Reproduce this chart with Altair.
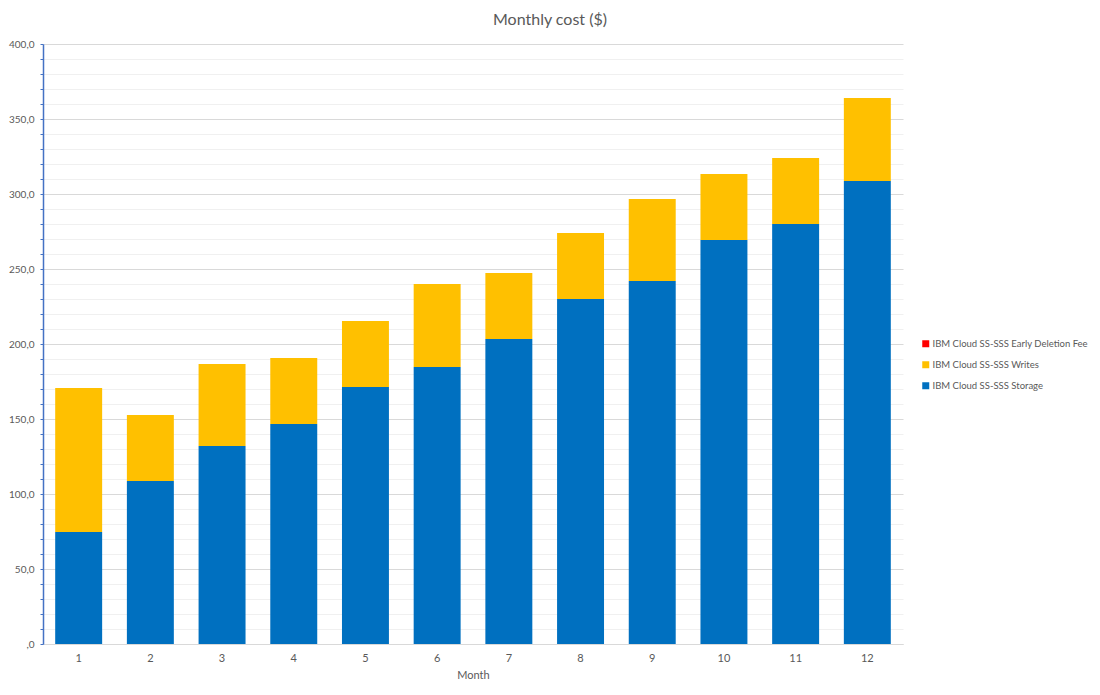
import altair as alt
import pandas as pd

months = [1, 2, 3, 4, 5, 6, 7, 8, 9, 10, 11, 12]
storage = [74.7, 108.7, 132.0, 146.7, 171.3, 184.7, 203.3, 230.0, 242.0, 269.3, 280.0, 308.7]
writes = [96.0, 44.0, 54.7, 44.0, 44.0, 55.3, 44.0, 44.0, 54.7, 44.0, 44.0, 55.3]
early_fee = [0, 0, 0, 0, 0, 0, 0, 0, 0, 0, 0, 0]

series_names = [
    "IBM Cloud SS-SSS Early Deletion Fee",
    "IBM Cloud SS-SSS Writes",
    "IBM Cloud SS-SSS Storage",
]
series_colors = ["#FF0000", "#FFC000", "#0070C0"]

rows = []
for i, m in enumerate(months):
    rows.append({"Month": m, "Series": series_names[2], "Cost": storage[i], "ord": 0})
    rows.append({"Month": m, "Series": series_names[1], "Cost": writes[i], "ord": 1})
    rows.append({"Month": m, "Series": series_names[0], "Cost": early_fee[i], "ord": 2})
df = pd.DataFrame(rows)

FONT = "Lato"
GRAY = "#595959"

y_ticks = list(range(0, 401, 10))

chart = alt.Chart(df).mark_bar().encode(
    x=alt.X("Month:O", title="Month",
            scale=alt.Scale(paddingInner=0.345, paddingOuter=0.17),
            axis=alt.Axis(labelAngle=0, ticks=False, domainColor="#D9D9D9",
                          labelFontSize=11, labelColor=GRAY, labelPadding=8,
                          titleFontSize=11, titleColor=GRAY, titleFontWeight="normal",
                          titlePadding=6, labelFont=FONT, titleFont=FONT)),
    y=alt.Y("Cost:Q", title=None, stack="zero",
            scale=alt.Scale(domain=[0, 400], nice=False),
            axis=alt.Axis(values=y_ticks,
                          labelExpr="datum.value % 50 != 0 ? '' : (datum.value == 0 ? ',0' : replace(format(datum.value, '.1f'), '.', ','))",
                          gridColor={"condition": {"test": "datum.value % 50 == 0", "value": "#D9D9D9"}, "value": "#F0F0F0"},
                          tickSize=3,
                          tickColor="#4472C4", domainColor="#4472C4", domainWidth=1.5,
                          labelFontSize=10, labelColor=GRAY, labelFont=FONT, labelPadding=6)),
    color=alt.Color("Series:N",
                    scale=alt.Scale(domain=series_names, range=series_colors),
                    legend=alt.Legend(title=None, orient="none", legendX=878, legendY=295,
                                      symbolType="square", symbolSize=49, symbolStrokeWidth=0,
                                      labelFontSize=9.5, labelColor=GRAY, labelFont=FONT,
                                      labelOffset=2, rowPadding=10, labelLimit=300)),
    order=alt.Order("ord:Q", sort="ascending"),
).properties(
    width=860, height=600,
    background="white",
    title=alt.Title("Monthly cost ($)", fontSize=16, font=FONT, fontWeight="normal",
                    color=GRAY, anchor="middle", dx=77, offset=11),
    autosize=alt.AutoSizeParams(type="none"),
    padding={"left": 35, "top": 36, "right": 189, "bottom": 43},
).configure_view(stroke=None)

chart.save("out.html", embed_options={"renderer": "svg", "actions": False})
